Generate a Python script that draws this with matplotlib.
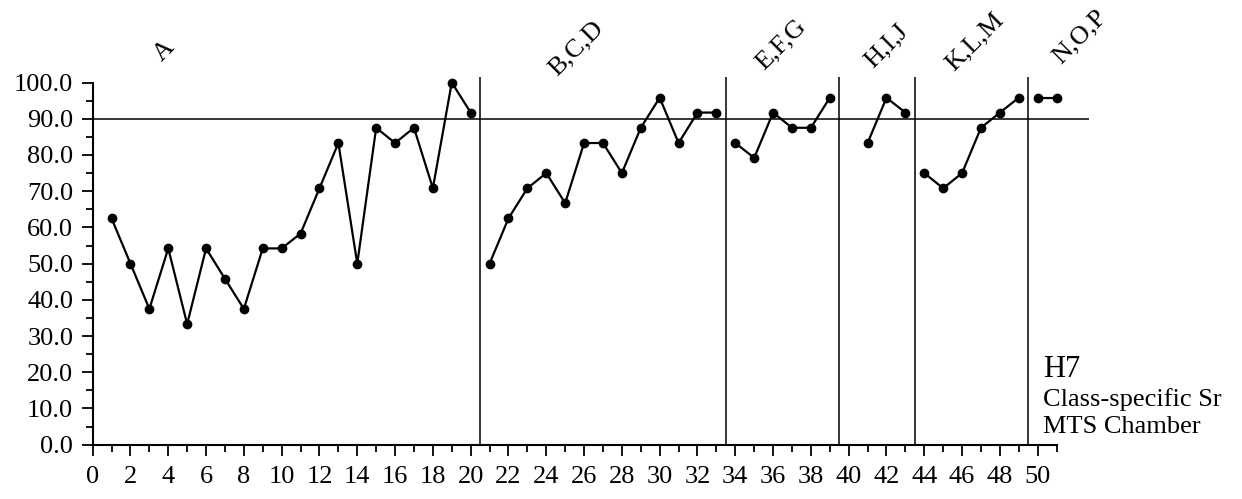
import matplotlib.pyplot as plt
from matplotlib.ticker import FormatStrFormatter

plt.rcParams['font.family'] = ['Liberation Serif', 'DejaVu Serif']

# group names and their runs (x = trial number, y = score)
groups = ['A', 'B,C,D', 'E,F,G', 'H,I,J', 'K,L,M', 'N,O,P']
trials = [
    list(range(1, 21)),
    list(range(21, 34)),
    list(range(34, 40)),
    [41, 42, 43],
    list(range(44, 50)),
    [50, 51],
]
scores = [
    [62.5, 50.0, 37.5, 54.2, 33.3, 54.2, 45.8, 37.5, 54.2, 54.2,
     58.3, 70.8, 83.3, 50.0, 87.5, 83.3, 87.5, 70.8, 100.0, 91.7],
    [50.0, 62.5, 70.8, 75.0, 66.7, 83.3, 83.3, 75.0, 87.5, 95.8, 83.3, 91.7, 91.7],
    [83.3, 79.2, 91.7, 87.5, 87.5, 95.8],
    [83.3, 95.8, 91.7],
    [75.0, 70.8, 75.0, 87.5, 91.7, 95.8],
    [95.8, 95.8],
]
boundaries = [20.5, 33.5, 39.5, 43.5, 49.5]
criterion = 90.0
# where the group names sit (data coords)
label_x = [3.8, 25.6, 36.4, 42.0, 46.7, 52.2]
label_y = [108.8, 109.3, 110.4, 110.0, 111.2, 112.6]

fig = plt.figure(figsize=(12.42, 4.99), dpi=100)
ax = fig.add_axes([0.0746, 0.1088, 0.8020, 0.736])

for xs, ys in zip(trials, scores):
    ax.plot(xs, ys, color='black', lw=1.6, marker='o', ms=6)

for b in boundaries:
    ax.axvline(b, ymin=0, ymax=1, color='black', lw=1.1)
ax.axhline(criterion, color='black', lw=1.1)

for name, lx, ly in zip(groups, label_x, label_y):
    ax.text(lx, ly, name, rotation=45, ha='center', va='center',
            fontsize=19, clip_on=False)

ax.set_xlim(0, 52.7)
ax.set_ylim(0, 101.4)
ax.spines['top'].set_visible(False)
ax.spines['right'].set_visible(False)
ax.spines['left'].set_bounds(0, 100)
ax.spines['bottom'].set_bounds(0, 51)
ax.spines['left'].set_linewidth(1.5)
ax.spines['bottom'].set_linewidth(1.5)

ax.yaxis.set_major_formatter(FormatStrFormatter('%.1f'))
ax.set_xticks(list(range(0, 51, 2)))
ax.set_xticks(list(range(0, 52)), minor=True)
ax.set_yticks([t * 10 for t in range(11)])
ax.set_yticks([t * 5 for t in range(21)], minor=True)
ax.tick_params(which='major', length=8, width=1.3, labelsize=19)
ax.tick_params(which='minor', length=5, width=1.3)
ax.tick_params(axis='x', pad=7)
ax.tick_params(axis='y', pad=6)

fig.text(0.8398, 0.2445, 'H7', fontsize=22, va='baseline')
fig.text(0.8398, 0.1864, 'Class-specific Sr', fontsize=19, va='baseline')
fig.text(0.8398, 0.1323, 'MTS Chamber', fontsize=19, va='baseline')

fig.savefig('out.png', dpi=100)
